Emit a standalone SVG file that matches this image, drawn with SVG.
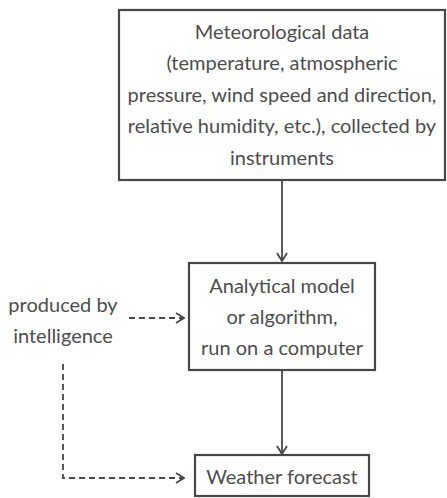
<svg xmlns="http://www.w3.org/2000/svg" width="447" height="498" viewBox="0 0 447 498">
<defs>
<style>
.box{fill:#fff;stroke:#474747;stroke-width:2.2}
.t{font-family:Lato,"Open Sans","Liberation Sans",sans-serif;font-size:20px;fill:#4d4d4d;text-anchor:middle}
.solid{fill:none;stroke:#474747;stroke-width:1.8}
.dash{fill:none;stroke:#474747;stroke-width:1.8;stroke-dasharray:6 4}
</style>
<marker id="ah" viewBox="0 0 12 12" refX="11" refY="6" markerWidth="12" markerHeight="12" markerUnits="userSpaceOnUse" orient="auto">
<path d="M3,1 L11,6 L3,11" fill="none" stroke="#474747" stroke-width="1.8"/>
</marker>
</defs>
<rect width="447" height="498" fill="#fff"/>
<g id="connectors">
<line class="solid" x1="282" y1="181" x2="282" y2="261" marker-end="url(#ah)"/>
<line class="solid" x1="282" y1="371" x2="282" y2="454" marker-end="url(#ah)"/>
<line class="dash" x1="129" y1="318" x2="184" y2="318" marker-end="url(#ah)"/>
<path class="dash" d="M63,364 V478 H184" marker-end="url(#ah)"/>
</g>
<g id="meteo">
<rect class="box" x="119" y="10" width="326" height="170"/>
<text class="t" x="282" y="39">Meteorological data</text>
<text class="t" x="282" y="70">(temperature, atmospheric</text>
<text class="t" x="282" y="102">pressure, wind speed and direction,</text>
<text class="t" x="282" y="133">relative humidity, etc.), collected by</text>
<text class="t" x="282" y="165">instruments</text>
</g>
<g id="model">
<rect class="box" x="189" y="263" width="186" height="107"/>
<text class="t" x="282" y="293">Analytical model</text>
<text class="t" x="282" y="324">or algorithm,</text>
<text class="t" x="282" y="355">run on a computer</text>
</g>
<g id="forecast">
<rect class="box" x="195" y="455" width="174" height="41"/>
<text class="t" x="282" y="484">Weather forecast</text>
</g>
<g id="intelligence">
<text class="t" x="63" y="312">produced by</text>
<text class="t" x="63" y="343">intelligence</text>
</g>
</svg>
